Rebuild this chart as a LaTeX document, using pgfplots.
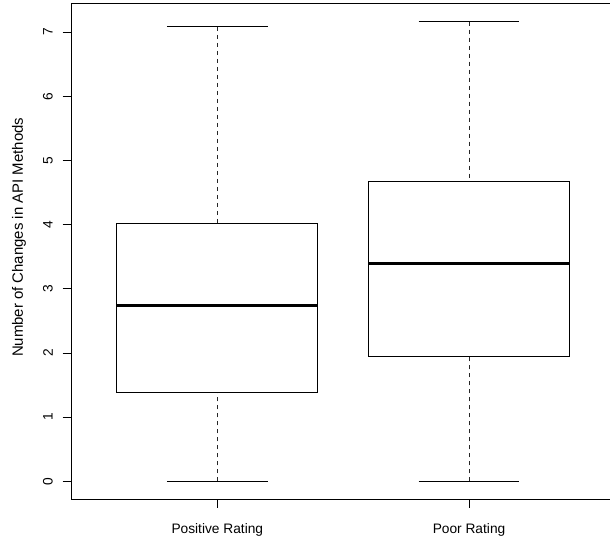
\documentclass[border=0pt]{standalone}
\usepackage{fontspec}
\setmainfont{Liberation Sans}
\usepackage{pgfplots}
\pgfplotsset{compat=1.18}
\usepgfplotslibrary{statistics}
\begin{document}
\begin{tikzpicture}
\begin{axis}[
  scale only axis, width=407.8pt, height=372pt,
  xmin=0.42, xmax=2.58, ymin=-0.28, ymax=7.45,
  xtick={1,2}, xticklabels={Positive Rating, Poor Rating},
  ytick={0,1,2,3,4,5,6,7},
  tick pos=left, tick align=outside, major tick length=6.5pt,
  /pgf/number format/assume math mode=true,
  axis line style={line width=0.75pt, black},
  every tick/.style={black, line width=0.75pt},
  tick label style={font=\fontsize{10.3}{12}\selectfont, inner sep=0pt, anchor=center},
  yticklabel style={rotate=90},
  yticklabel shift=11pt,
  xticklabel shift=16.5pt,
  ylabel={Number of Changes in API Methods},
  ylabel style={font=\fontsize{11.2}{13}\selectfont, at={(axis description cs:-0.096,0.528)}, anchor=center, inner sep=0pt},
  boxplot/draw direction=y,
  boxplot/box extend=0.8,
  boxplot/whisker extend=0.4,
  boxplot/every median/.style={line width=2.25pt},
  boxplot/draw/lower whisker/.code={
    \draw[black!85, line width=0.75pt, dash pattern=on 3pt off 3pt]
      (boxplot box cs:\pgfplotsboxplotvalue{lower whisker},0.5) --
      (boxplot box cs:\pgfplotsboxplotvalue{lower quartile},0.5);
    \draw[black, line width=0.75pt, solid]
      (boxplot whisker cs:\pgfplotsboxplotvalue{lower whisker},0) --
      (boxplot whisker cs:\pgfplotsboxplotvalue{lower whisker},1);
  },
  boxplot/draw/upper whisker/.code={
    \draw[black!85, line width=0.75pt, dash pattern=on 3pt off 3pt]
      (boxplot box cs:\pgfplotsboxplotvalue{upper whisker},0.5) --
      (boxplot box cs:\pgfplotsboxplotvalue{upper quartile},0.5);
    \draw[black, line width=0.75pt, solid]
      (boxplot whisker cs:\pgfplotsboxplotvalue{upper whisker},0) --
      (boxplot whisker cs:\pgfplotsboxplotvalue{upper whisker},1);
  },
]
\addplot[black, line width=0.75pt, solid, boxplot prepared={
    lower whisker=0, lower quartile=1.392, median=2.744,
    upper quartile=4.02, upper whisker=7.083, draw position=1}]
  coordinates {};
\addplot[black, line width=0.75pt, solid, boxplot prepared={
    lower whisker=0, lower quartile=1.953, median=3.40,
    upper quartile=4.68, upper whisker=7.166, draw position=2}]
  coordinates {};
\end{axis}
\pgfresetboundingbox
\path (current axis.south west) ++(-53.475pt,-33.525pt) rectangle ++(457.5pt,408pt);
\end{tikzpicture}
\end{document}
